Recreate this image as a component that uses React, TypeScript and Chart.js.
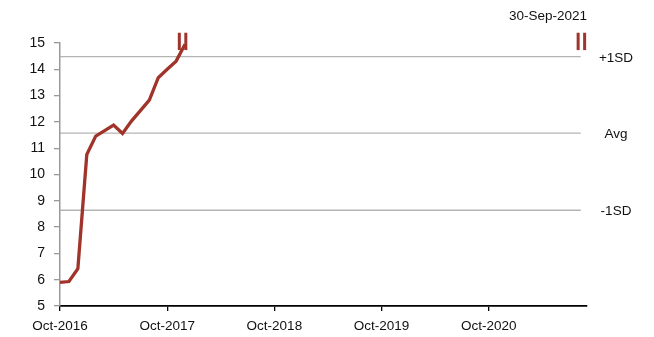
import React, { useEffect, useRef } from 'react';
import { Chart, registerables } from 'chart.js';

Chart.register(...registerables);

// Months since Oct-2016 (monthly observations)
const monthIndex = [0, 1, 2, 3, 4, 5, 6, 7, 8, 9, 10, 11, 12, 13, 14];
const seriesValues = [5.9, 5.93, 6.42, 10.76, 11.46, 11.67, 11.88, 11.56, 12.03, 12.43, 12.83, 13.68, 14.0, 14.31, 14.95];

const axisLastMonth = 59; // Sep-2021
const tickMonths = [0, 12, 24, 36, 48];
const tickLabels = ['Oct-2016', 'Oct-2017', 'Oct-2018', 'Oct-2019', 'Oct-2020'];
const yMin = 5;
const yMax = 15;

const plusSD = 14.48;
const avgValue = 11.57;
const minusSD = 8.64;
const bandValues = [plusSD, avgValue, minusSD];
const bandLabels = ['+1SD', 'Avg', '-1SD'];
const bandEndMonth = 58.3;

const dateLabel = '30-Sep-2021';
const breakMarkMonths = [13.75, 58.4];
const breakMarkTop = 15.39;
const breakMarkBottom = 14.73;

const FONT = "'Liberation Sans', Arial, sans-serif";
const RED = '#A0342A';

export default function App() {
  const ref = useRef<HTMLCanvasElement>(null);

  useEffect(() => {
    if (!ref.current) return;
    const overlay = {
      id: 'overlay',
      afterDatasetsDraw(chart: any) {
        const { ctx, chartArea, scales } = chart;
        const x = scales.x;
        const y = scales.y;
        ctx.save();
        // break marks
        ctx.fillStyle = RED;
        const top = y.getPixelForValue(breakMarkTop);
        const bot = y.getPixelForValue(breakMarkBottom);
        breakMarkMonths.forEach((m) => {
          const cx = x.getPixelForValue(m);
          ctx.fillRect(cx - 5, top, 3, bot - top);
          ctx.fillRect(cx + 1.5, top, 3, bot - top);
        });
        // band labels
        ctx.fillStyle = '#111';
        ctx.font = `13.5px ${FONT}`;
        ctx.textAlign = 'center';
        ctx.textBaseline = 'middle';
        bandValues.forEach((v, i) => {
          ctx.fillText(bandLabels[i], chartArea.right + 29, y.getPixelForValue(v) + 1.5);
        });
        ctx.textAlign = 'right';
        ctx.fillText(dateLabel, chartArea.right, 16);
        ctx.restore();
      },
    };

    const bandDatasets = bandValues.map((v) => ({
      data: [
        { x: 0, y: v },
        { x: bandEndMonth, y: v },
      ],
      borderColor: '#b4b4b4',
      borderWidth: 1.3,
      pointRadius: 0,
      order: 2,
    }));

    const chart = new Chart(ref.current, {
      type: 'line',
      data: {
        datasets: [
          {
            data: monthIndex.map((m, i) => ({ x: m, y: seriesValues[i] })),
            borderColor: RED,
            borderWidth: 3.3,
            pointRadius: 0,
            tension: 0,
            order: 1,
          },
          ...bandDatasets,
        ],
      },
      options: {
        animation: false,
        responsive: false,
        events: [],
        layout: { padding: { top: 43, right: 67, left: 0, bottom: 0 } },
        plugins: { legend: { display: false }, tooltip: { enabled: false } },
        scales: {
          x: {
            type: 'linear',
            min: 0,
            max: axisLastMonth,
            afterBuildTicks: (scale: any) => {
              scale.ticks = tickMonths.map((v) => ({ value: v }));
            },
            afterFit: (scale: any) => {
              scale.height = 31;
            },
            ticks: {
              autoSkip: false,
              maxRotation: 0,
              padding: 7,
              color: '#111',
              font: { family: FONT, size: 13.5 },
              callback: (v: any) => {
                const i = tickMonths.indexOf(Number(v));
                return i >= 0 ? tickLabels[i] : '';
              },
            },
            grid: { drawOnChartArea: false, drawTicks: true, tickLength: 5, color: '#000', lineWidth: 1.3 },
            border: { display: true, color: '#000', width: 1.8 },
          },
          y: {
            min: yMin,
            max: yMax,
            afterFit: (scale: any) => {
              scale.width = 60;
            },
            ticks: {
              stepSize: 1,
              padding: 9,
              color: '#111',
              font: { family: FONT, size: 14 },
            },
            grid: { drawOnChartArea: false, drawTicks: true, tickLength: 6, color: '#999', lineWidth: 1.3 },
            border: { display: true, color: '#999', width: 1.5 },
          },
        },
      },
      plugins: [overlay],
    });
    return () => chart.destroy();
  }, []);

  return (
    <div style={{ position: 'fixed', left: 0, top: 0, width: 654, height: 337, background: '#fff' }}>
      <canvas ref={ref} width={654} height={337} style={{ width: 654, height: 337, display: 'block' }} />
    </div>
  );
}
